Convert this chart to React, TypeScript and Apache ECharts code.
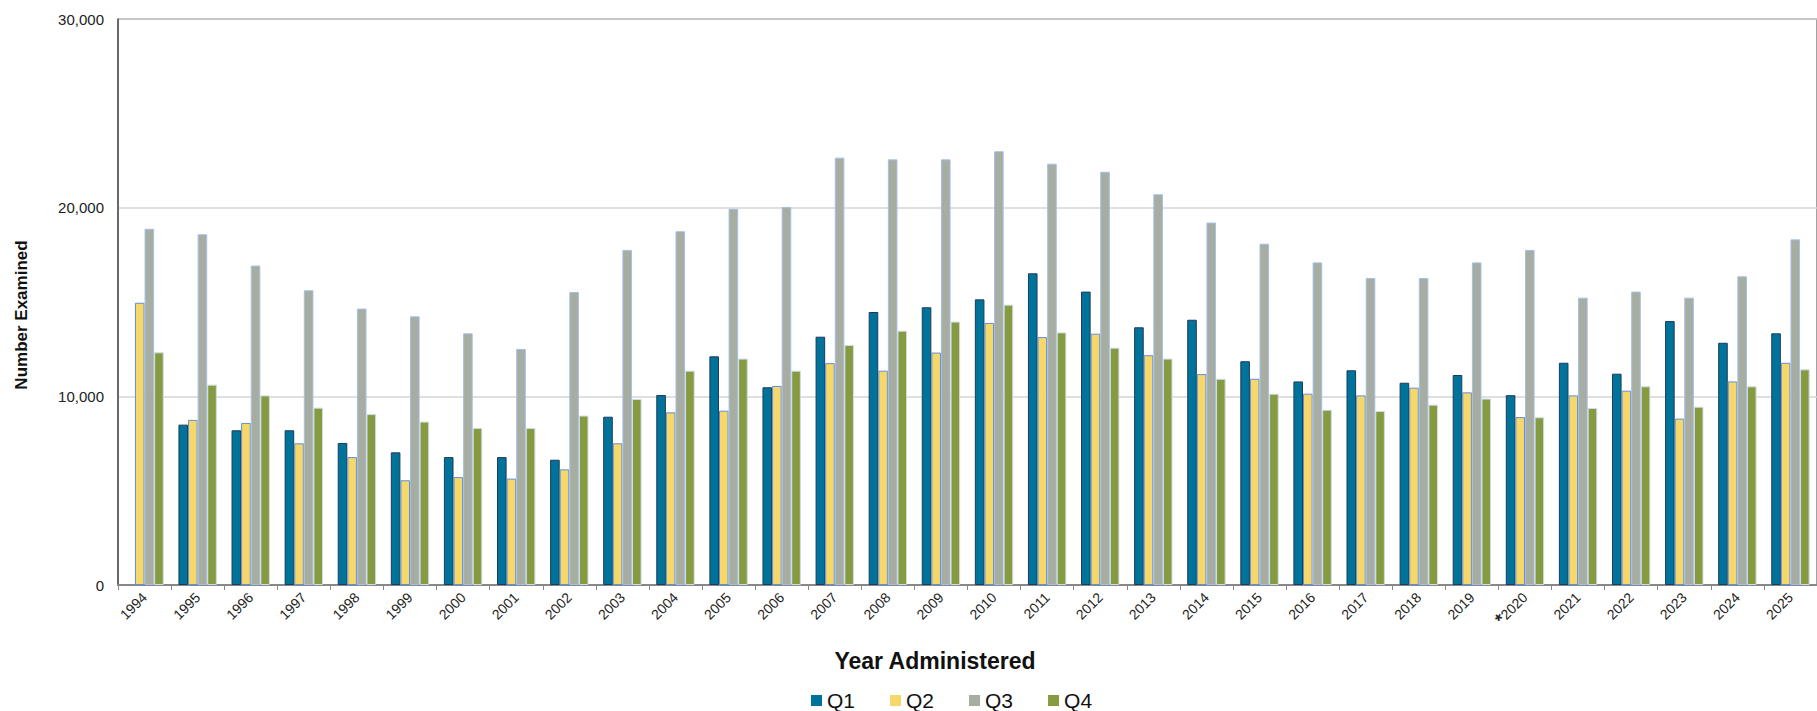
import React, { useEffect, useRef } from "react";
import * as echarts from "echarts";

const years = ["1994","1995","1996","1997","1998","1999","2000","2001","2002","2003","2004","2005","2006","2007","2008","2009","2010","2011","2012","2013","2014","2015","2016","2017","2018","2019","*2020","2021","2022","2023","2024","2025"];

const q1 = [null, 8500, 8200, 8200, 7530, 7030, 6780, 6780, 6640, 8920, 10070, 12120, 10480, 13160, 14470, 14720, 15140, 16520, 15550, 13660, 14060, 11860, 10790, 11380, 10720, 11130, 10060, 11780, 11200, 13990, 12840, 13340];
const q2 = [14960, 8750, 8590, 7510, 6780, 5550, 5720, 5640, 6130, 7510, 9150, 9240, 10550, 11760, 11360, 12320, 13890, 13140, 13320, 12180, 11180, 10930, 10140, 10050, 10460, 10210, 8900, 10050, 10300, 8820, 10790, 11780];
const q3 = [18880, 18590, 16930, 15620, 14650, 14240, 13340, 12510, 15530, 17760, 18750, 19940, 20030, 22650, 22560, 22560, 22990, 22330, 21900, 20710, 19210, 18090, 17100, 16270, 16270, 17100, 17760, 15230, 15550, 15230, 16360, 18320];
const q4 = [12330, 10620, 10050, 9400, 9060, 8660, 8320, 8320, 8980, 9860, 11360, 12000, 11360, 12720, 13480, 13960, 14860, 13390, 12580, 12000, 10930, 10140, 9290, 9220, 9560, 9880, 8890, 9380, 10530, 9450, 10530, 11430];

const seriesNames = ["Q1", "Q2", "Q3", "Q4"];
const yTicks = [0, 10000, 20000, 30000];

const FONT = "'Liberation Sans', Arial, sans-serif";

export default function App() {
  const ref = useRef<HTMLDivElement>(null);
  useEffect(() => {
    document.body.style.margin = "0";
    if (!ref.current) return;
    const chart = echarts.init(ref.current, null, { renderer: "svg" });
    const fills = ["#00739a", "#f5d76a", "#a7ada0", "#869b40"];
    const borders = ["#1d3b5c", "#5f90d8", "#a3bfe8", "#cfdcea"];
    const data = [q1, q2, q3, q4];
    chart.setOption({
      animation: false,
      textStyle: { fontFamily: FONT },
      grid: {
        left: 118,
        right: -2,
        top: 19,
        bottom: 126,
        show: true,
        borderColor: "#444",
        borderWidth: 1,
        containLabel: false,
      },
      legend: {
        left: 806,
        top: 685,
        itemWidth: 11,
        itemHeight: 11,
        itemGap: 35,
        icon: "rect",
        data: seriesNames,
        itemStyle: { borderWidth: 0 },
        textStyle: { fontSize: 21, color: "#111", fontFamily: FONT },
      },
      xAxis: {
        type: "category",
        data: years,
        axisLine: { show: true, lineStyle: { color: "#888", width: 2 } },
        axisTick: { show: true, length: 5, lineStyle: { color: "#888", width: 1 } },
        axisLabel: {
          rotate: 45,
          fontSize: 14,
          color: "#222",
          margin: 10,
          interval: 0,
          fontFamily: FONT,
          formatter: (v: string) => (v.startsWith("*") ? "{s|*}" + v.slice(1) : v),
          rich: { s: { fontSize: 18, fontWeight: "bold", color: "#222", fontFamily: FONT } },
        },
        splitLine: { show: false },
      },
      yAxis: {
        type: "value",
        min: yTicks[0],
        max: yTicks[yTicks.length - 1],
        interval: 10000,
        axisLine: { show: true, lineStyle: { color: "#555", width: 1.5 } },
        axisTick: { show: false },
        axisLabel: {
          fontSize: 15,
          color: "#222",
          margin: 14,
          fontFamily: FONT,
          formatter: (v: number) => v.toLocaleString("en-US"),
        },
        splitLine: { show: true, lineStyle: { color: "#d4d4d4", width: 1.5 } },
      },
      graphic: [
        {
          type: "text",
          x: 21,
          y: 315,
          rotation: Math.PI / 2,
          style: {
            text: "Number Examined",
            fontSize: 17,
            fontWeight: "bold",
            fontFamily: FONT,
            fill: "#111",
            textAlign: "center",
            textVerticalAlign: "middle",
          },
        },
        {
          type: "text",
          x: 935,
          y: 661,
          style: {
            text: "Year Administered",
            fontSize: 23,
            fontWeight: "bold",
            fontFamily: FONT,
            fill: "#111",
            textAlign: "center",
            textVerticalAlign: "middle",
          },
        },
      ],
      series: seriesNames.map((name, i) => ({
        name,
        type: "bar",
        data: data[i],
        barWidth: 9.6,
        barGap: "0%",
        itemStyle: { color: fills[i], borderColor: borders[i], borderWidth: 1 },
      })),
    });
    return () => chart.dispose();
  }, []);
  return <div ref={ref} style={{ width: 1817, height: 711 }} />;
}
